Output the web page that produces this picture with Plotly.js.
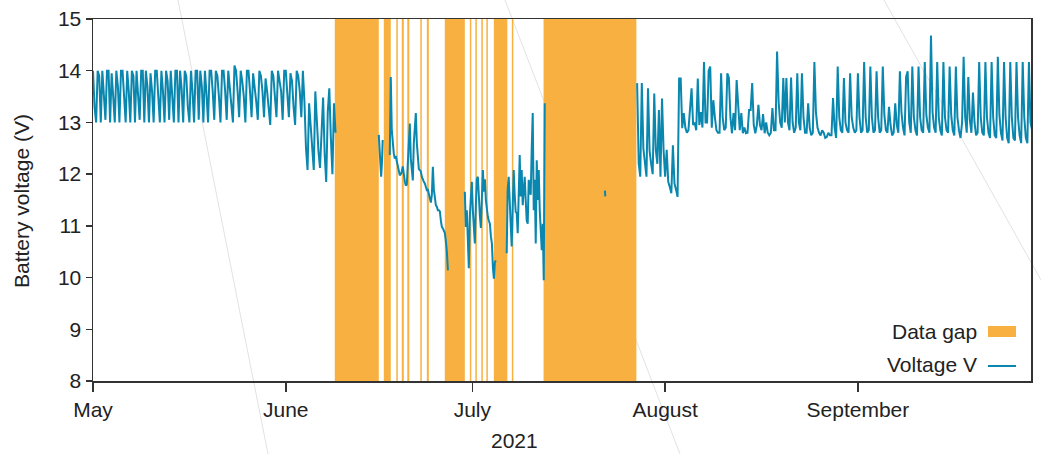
<!DOCTYPE html>
<html>
<head>
<meta charset="utf-8">
<script src="https://cdn.plot.ly/plotly-3.0.1.min.js"></script>
<style>html,body{margin:0;padding:0;background:#fff;}#chart{width:1041px;height:454px;}</style>
</head>
<body>
<div id="chart"></div>
<script>
// ---------------- data ----------------
const seriesName = "Voltage V";
const gapName = "Data gap";
const yAxisLabel = "Battery voltage (V)";
const xAxisLabel = "2021";

// Data gaps (start, end)
const gapStarts = ["2021-06-08 21:00","2021-06-16 18:15","2021-06-18 18:30","2021-06-19 15:40","2021-06-20 13:00","2021-06-22 15:10","2021-06-23 16:20","2021-06-26 13:40","2021-06-30 14:25","2021-07-01 11:30","2021-07-02 10:30","2021-07-03 06:00","2021-07-04 10:50","2021-07-07 08:25","2021-07-12 10:50"];
const gapEnds   = ["2021-06-15 23:00","2021-06-17 21:10","2021-06-19 00:15","2021-06-19 23:30","2021-06-20 20:40","2021-06-22 20:50","2021-06-24 00:00","2021-06-29 19:00","2021-06-30 20:00","2021-07-01 17:15","2021-07-02 16:20","2021-07-03 11:45","2021-07-06 15:00","2021-07-07 14:10","2021-07-27 09:00"];

// Voltage segments: start time, sampling step (minutes), readings
const segAStart = "2021-05-01 00:00"; const segAStep = 360;
const segAVolts = [
 14.0,13.3,13.0, 14.0,13.9,13.0, 14.0,13.6,13.05, 14.0,14.0,13.0, 13.95,13.5,13.0, 14.0,13.7,13.0,
 14.0,14.0,13.5,13.0, 14.0,13.6,13.0, 14.0,13.9,13.0, 14.0,13.55,13.05, 14.0,14.0,13.0, 14.0,13.7,13.0,
 13.95,13.6,13.0, 14.0,14.0,13.4,13.0, 14.0,13.6,13.0, 14.0,13.8,13.05, 14.0,13.5,13.0, 14.0,14.0,13.0,
 14.0,13.65,13.0, 14.0,13.9,13.3,13.0, 14.0,13.6,13.0, 14.0,14.0,13.05, 14.0,13.7,13.0, 14.0,13.55,13.0,
 14.0,14.0,13.6,13.05,
 14.0,13.9,13.5,13.0, 14.0,14.0,13.6,13.05, 14.0,13.7,13.3,13.0, 14.1,14.0,13.6,13.1,
 14.0,13.8,13.5,13.0, 14.0,14.0,13.6,13.1, 13.95,13.7,13.4,13.05, 14.0,13.9,13.6,13.1,
 13.85,13.6,13.3,12.95, 14.0,13.9,13.5,13.1, 14.0,13.8,13.6,13.05, 14.0,14.0,13.5,13.1,
 13.95,13.8,13.3,12.95, 14.0,13.9,13.6,13.1,
 14.0,13.4,12.5,12.08, 13.37,12.9,12.5,12.08, 13.6,12.9,12.45,12.12, 13.0,13.48,12.4,11.85,
 13.2,13.66,12.7,12.0, 13.37,12.8
];
const segBStart = "2021-06-15 23:00"; const segBStep = 180;
const segBVolts = [12.76,12.5,12.2,11.95,12.2,12.66];
const segCStart = "2021-06-17 17:20"; const segCStep = 232;
const segCVolts = [
 12.37,13.88,12.85,12.5,12.4,12.3,12.35,12.25,12.15,12.1,11.98,12.0,12.05,12.15,11.95,11.86,11.78,11.8,
 12.2,12.7,12.98,12.3,12.05,11.88,12.6,13.0,13.18,12.6,12.35,12.1,12.08,12.05,11.95,11.88,11.85,11.82,
 11.75,11.69,11.7,11.6,11.5,11.45,11.6,12.14,11.7,11.5,11.4,11.37,11.3,11.3,11.28,11.1,10.98,10.95,
 10.9,10.86,10.7,10.5,10.14
];
const segDStart = "2021-06-29 19:00"; const segDStep = 232;
const segDVolts = [
 11.66,10.98,11.3,10.6,10.18,11.2,11.65,11.85,11.3,11.0,10.66,11.4,11.9,11.95,11.4,11.2,10.96,11.6,
 12.08,11.66,11.9,11.5,11.3,11.17,11.1,11.04,10.8,10.66,10.2,9.98,10.3,10.33
];
const segEStart = "2021-07-06 12:30"; const segEStep = 232;
const segEVolts = [
 10.47,11.7,11.95,11.3,11.04,10.6,11.5,12.08,11.6,11.27,11.25,10.86,11.6,12.37,11.57,12.08,11.4,11.6,
 11.95,11.5,11.1,11.04,11.89,11.7,11.6,12.5,13.18,11.3,11.89,10.66,12.27,11.5,12.08,11.3,11.0,10.53,
 11.04,9.95,13.37
];
const segGStart = "2021-07-22 07:30"; const segGStep = 90;
const segGVolts = [11.68,11.57];
const segFStart = "2021-07-27 12:00"; const segFStep = 360;
const segFVolts = [
 13.76,
 12.21,11.95,13.76,12.5, 12.2,11.95,13.66,12.45, 12.2,12.0,13.56,12.47, 12.2,13.24,11.95,13.46,
 12.47,11.95,12.47,11.85, 11.75,11.63,12.56,11.82, 11.7,11.56,13.85,13.85, 12.89,13.18,12.9,12.8,
 12.85,13.24,13.66,12.95, 13.0,12.85,13.85,12.95, 13.2,12.9,14.17,13.0, 13.0,14.0,14.08,12.9,
 13.43,13.1,12.85,12.8, 12.8,13.95,13.1,12.85, 12.9,13.95,13.86,13.1, 12.79,13.18,12.85,13.82,
 13.18,12.85,13.18,12.79, 12.9,12.79,12.8,13.24, 13.24,13.76,12.95,12.79, 12.95,13.34,12.95,12.85,
 13.16,12.79,13.0,12.8, 12.75,12.8,13.28,12.85, 12.85,14.37,13.4,13.0, 12.9,13.86,13.0,13.86,
 13.0,12.85,13.87,13.0, 12.8,12.9,13.95,13.0, 12.85,13.95,13.1,12.8, 12.8,13.37,12.9,12.75,
 12.8,14.17,13.2,12.9, 12.8,12.75,12.85,12.8, 12.7,12.72,12.8,12.75, 12.75,13.47,12.9,12.7,
 14.08,13.1,12.85,12.8, 13.86,13.0,12.85,12.8, 13.95,13.1,12.9,12.8,
 12.85,13.95,13.1,12.8, 12.85,14.17,13.1,12.8, 12.85,14.08,13.1,12.8, 12.85,13.99,13.1,12.8,
 12.85,14.08,13.15,12.85, 12.8,13.3,12.95,12.75, 12.8,13.37,12.95,12.8, 13.99,13.2,12.9,12.75,
 13.88,13.99,13.0,12.8, 14.08,13.1,12.85,12.75, 14.08,13.1,12.85,12.8, 14.17,13.15,12.9,12.8,
 14.68,13.2,12.9,12.8, 14.17,13.1,12.85,12.75, 14.17,13.1,12.85,12.8, 14.08,13.15,12.85,12.75,
 14.08,13.1,12.85,12.7, 13.0,14.27,13.1,12.8, 13.88,13.05,12.8,13.58, 13.0,12.75,12.8,14.17,
 13.1,12.8,12.75,14.17, 13.1,12.8,12.7,14.17, 13.1,12.75,12.7,14.27, 13.15,12.8,12.65,14.17,
 13.1,12.7,12.6,14.17, 13.1,12.7,12.65,14.17, 13.1,12.75,12.6,14.17, 13.1,12.7,12.6,14.17,
 13.0,12.85
];

// ---------------- build ----------------
function toMs(s){ return Date.parse(s.replace(' ','T') + ':00Z'); }
function fmt(ms){ return new Date(ms).toISOString().slice(0,19).replace('T',' '); }
const segments = [
  [segAStart, segAStep, segAVolts],
  [segBStart, segBStep, segBVolts],
  [segCStart, segCStep, segCVolts],
  [segDStart, segDStep, segDVolts],
  [segEStart, segEStep, segEVolts],
  [segGStart, segGStep, segGVolts],
  [segFStart, segFStep, segFVolts]
];
const vx = [], vy = [];
segments.forEach(function(seg, k){
  const t0 = toMs(seg[0]);
  seg[2].forEach(function(v, i){ vx.push(fmt(t0 + i*seg[1]*60000)); vy.push(v); });
  if (k < segments.length-1){ vx.push(fmt(t0 + seg[2].length*seg[1]*60000)); vy.push(null); }
});

const gapColor = '#f8b041';
const lineColor = '#0a87ae';
const font = {family: '"Liberation Sans", Arial, sans-serif', size: 21, color: '#222'};

function px2x(px){ return (px-93)/938; }
function py2y(py){ return (381-py)/362; }

const shapes = [];
// faint background lines (scan artefacts in the reference), drawn first so gaps cover them
[[178,0,268,454],[505,0,680,454],[884,0,1041,280]].forEach(function(l){
  shapes.push({type:'line', xref:'paper', yref:'paper', x0:px2x(l[0]), y0:py2y(l[1]), x1:px2x(l[2]), y1:py2y(l[3]),
    line:{color:'#e2e2e2', width:1}, layer:'below'});
});
for (let i = 0; i < gapStarts.length; i++){
  shapes.push({type:'rect', xref:'x', yref:'paper', x0:gapStarts[i], x1:gapEnds[i], y0:0, y1:1,
    fillcolor:gapColor, line:{width:0}, layer:'below'});
}
// custom legend swatches
shapes.push({type:'rect', xref:'paper', yref:'paper', x0:px2x(988), x1:px2x(1016), y0:py2y(337), y1:py2y(326),
  fillcolor:gapColor, line:{width:0}});
shapes.push({type:'line', xref:'paper', yref:'paper', x0:px2x(988), x1:px2x(1016), y0:py2y(366), y1:py2y(366),
  line:{color:lineColor, width:2}});

const annotations = [
  {xref:'paper', yref:'paper', x:px2x(979), y:py2y(331), xanchor:'right', yanchor:'middle', text:gapName, showarrow:false, font:font},
  {xref:'paper', yref:'paper', x:px2x(979), y:py2y(364), xanchor:'right', yanchor:'middle', text:seriesName, showarrow:false, font:font},
  {xref:'paper', yref:'paper', x:px2x(514), y:py2y(440), xanchor:'center', yanchor:'middle', text:xAxisLabel, showarrow:false, font:font},
  {xref:'paper', yref:'paper', x:px2x(22), y:py2y(201), xanchor:'center', yanchor:'middle', textangle:-90, text:yAxisLabel, showarrow:false, font:font}
];

const data = [{
  type:'scatter', mode:'lines', x:vx, y:vy, name:seriesName, connectgaps:false,
  line:{color:lineColor, width:2}, showlegend:false
}];

const layout = {
  width:1041, height:454,
  margin:{l:93, r:10, t:19, b:73, pad:0},
  paper_bgcolor:'#fff', plot_bgcolor:'#fff',
  font:font,
  showlegend:false,
  xaxis:{
    type:'date', range:['2021-05-01 00:00','2021-09-28 20:00'],
    tick0:'2021-05-01', dtick:'M1', tickformat:'%B',
    ticks:'outside', ticklen:9, tickwidth:1.5, tickcolor:'#333',
    showgrid:false, zeroline:false, showline:true, linecolor:'#333', linewidth:1.5, mirror:true,
    tickfont:font
  },
  yaxis:{
    range:[8,15], dtick:1, tick0:8,
    ticks:'outside', ticklen:6, tickwidth:1.5, tickcolor:'#333',
    showgrid:false, zeroline:false, showline:true, linecolor:'#333', linewidth:1.5, mirror:true,
    tickfont:font
  },
  shapes:shapes,
  annotations:annotations
};

Plotly.newPlot('chart', data, layout, {staticPlot:true, displayModeBar:false});
</script>
</body>
</html>
